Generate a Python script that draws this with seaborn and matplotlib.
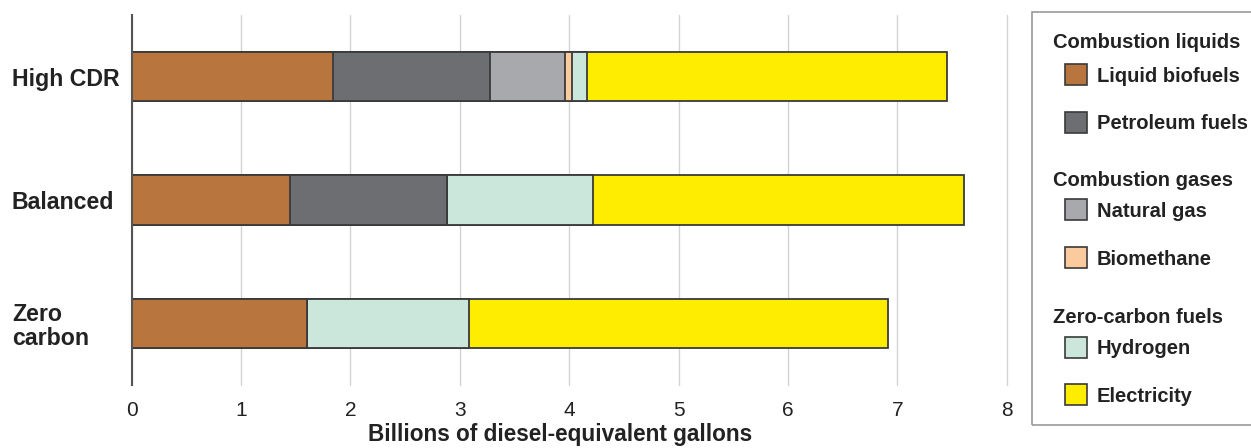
import numpy as np
import pandas as pd
import matplotlib
matplotlib.use("Agg")
import matplotlib.pyplot as plt
from matplotlib.patches import Rectangle
import seaborn as sns

# ---- data ----
scenarios = ["High CDR", "Balanced", "Zero\ncarbon"]
fuels = ["Liquid biofuels", "Petroleum fuels", "Natural gas", "Biomethane", "Hydrogen", "Electricity"]
liquid_biofuels = [1.845, 1.445, 1.607]
petroleum_fuels = [1.435, 1.435, 0.0]
natural_gas = [0.68, 0.0, 0.0]
biomethane = [0.07, 0.0, 0.0]
hydrogen = [0.13, 1.34, 1.48]
electricity = [3.29, 3.39, 3.83]
xticks = [0, 1, 2, 3, 4, 5, 6, 7, 8]
xlabel = "Billions of diesel-equivalent gallons"
legend_groups = [
    ("Combustion liquids", ["Liquid biofuels", "Petroleum fuels"]),
    ("Combustion gases", ["Natural gas", "Biomethane"]),
    ("Zero-carbon fuels", ["Hydrogen", "Electricity"]),
]
colors = {
    "Liquid biofuels": "#B8763E",
    "Petroleum fuels": "#6D6E71",
    "Natural gas": "#A7A9AC",
    "Biomethane": "#FBCB9E",
    "Hydrogen": "#CBE7DC",
    "Electricity": "#FFED00",
}

sns.set_style("white")
plt.rcParams["font.family"] = ["Liberation Sans", "DejaVu Sans"]

W, H = 1251, 448
fig = plt.figure(figsize=(W / 100, H / 100), dpi=100)
fig.patch.set_facecolor("white")
ax = fig.add_axes([131.7 / W, (H - 385) / H, 875 / W, 370 / H])

df = pd.DataFrame({
    "scenario": scenarios,
    "Liquid biofuels": liquid_biofuels,
    "Petroleum fuels": petroleum_fuels,
    "Natural gas": natural_gas,
    "Biomethane": biomethane,
    "Hydrogen": hydrogen,
    "Electricity": electricity,
})
cum = df[fuels].cumsum(axis=1)

for fuel in reversed(fuels):
    sns.barplot(x=cum[fuel].values, y=df["scenario"].values, order=scenarios,
                color=colors[fuel], saturation=1, width=0.4, errorbar=None,
                edgecolor="#3a3a3a", linewidth=1.3, orient="h", ax=ax)

ax.set_xlim(0, 8)
ax.set_ylim(2.5, -0.5)
ax.set_xticks(xticks)
ax.set_xticklabels([str(t) for t in xticks])
ax.set_axisbelow(True)
ax.xaxis.grid(True, color="#d3d3d3", lw=1.0)
ax.yaxis.grid(False)
for gl in ax.xaxis.get_gridlines():
    gl.set_clip_on(False)
for s in ["top", "right", "bottom"]:
    ax.spines[s].set_visible(False)
ax.spines["left"].set_color("#555555")
ax.spines["left"].set_linewidth(1.5)
ax.set_facecolor("white")

ax.tick_params(axis="x", length=0, pad=11.5, labelsize=15, labelcolor="#222222")
ax.tick_params(axis="y", length=0, pad=86.2, labelsize=16.7, labelcolor="#222222")
for lab in ax.get_yticklabels():
    lab.set_ha("left")
    lab.set_fontweight("bold")
    lab.set_linespacing(1.05)
ax.set_ylabel("")
ax.set_xlabel(xlabel, fontsize=16.3, fontweight="bold", color="#222222")
ax.xaxis.set_label_coords(0.49, (385 - 423) / 370)

# ---- legend ----
def fx(px):
    return px / W

def fy(py):
    return 1 - py / H

frame = Rectangle((fx(1031.5), fy(425)), fx(1275) - fx(1031.5), (425 - 12) / H,
                  transform=fig.transFigure, fill=False, ec="#9a9a9a", lw=1.2, clip_on=False)
fig.add_artist(frame)

fs = 14.5
cap = 0.716 * fs * 100 / 72
header_y = [41, 179, 316]
entry_y = [[75, 122], [210, 257.5], [347, 394.7]]
for (title, items), hy, eys in zip(legend_groups, header_y, entry_y):
    fig.text(fx(1052.7), fy(hy + cap / 2), title, fontsize=fs, fontweight="bold",
             color="#222222", va="baseline", ha="left")
    for item, ey in zip(items, eys):
        r = Rectangle((fx(1065), fy(ey + 10.5)), fx(1087.3) - fx(1065), 21 / H,
                      transform=fig.transFigure, fc=colors[item], ec="#3a3a3a", lw=1.2)
        fig.add_artist(r)
        fig.text(fx(1096.7), fy(ey + cap / 2), item, fontsize=fs, fontweight="bold",
                 color="#222222", va="baseline", ha="left")

fig.savefig("out.png", dpi=100, facecolor="white")
